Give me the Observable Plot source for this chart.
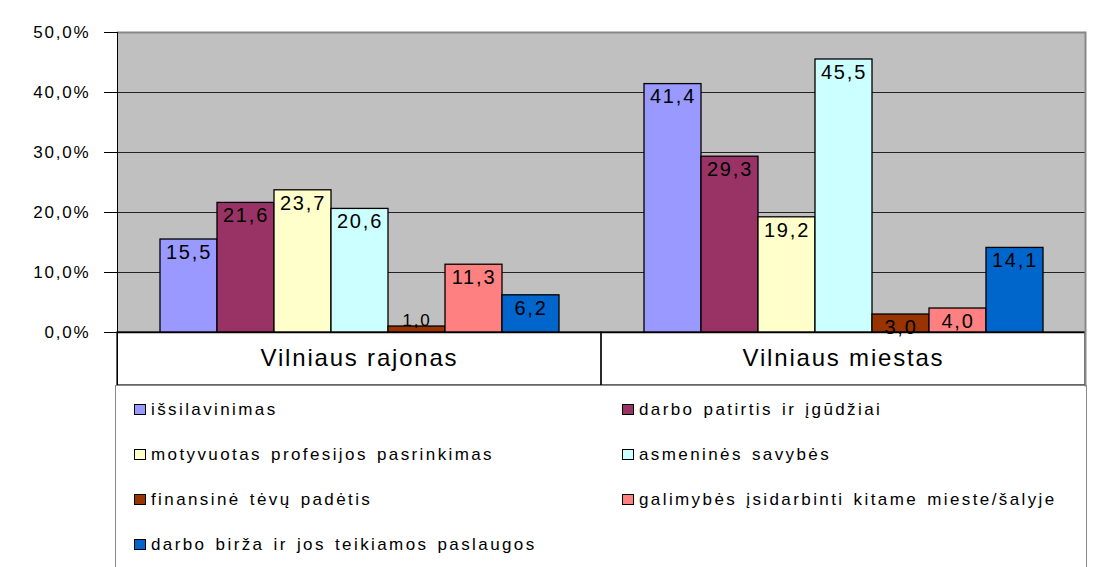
<!DOCTYPE html>
<html><head><meta charset="utf-8">
<script src="https://cdn.jsdelivr.net/npm/d3@7"></script>
<script src="https://cdn.jsdelivr.net/npm/@observablehq/plot@0.6"></script>
<style>
body{margin:0;background:#fff;font-family:"Liberation Sans",Arial,sans-serif;}
#chart{position:absolute;left:0;top:0;}
#chart svg{display:block;}
#legend{position:absolute;left:115px;top:385px;width:972px;height:220px;border:1px solid #888;
  display:grid;grid-template-columns:488px 1fr;grid-auto-rows:45px;padding:1px 0 0 18px;box-sizing:border-box;}
.item{display:flex;align-items:center;font-size:17px;letter-spacing:2.4px;word-spacing:2px;color:#000;white-space:nowrap;}
.sw{width:10px;height:9px;border:1px solid #000;margin-right:5px;flex:none;}
</style></head><body>
<div id="chart"></div>
<div id="legend"></div>
<script>
const groups = ["Vilniaus rajonas", "Vilniaus miestas"];
const series = [
  "išsilavinimas",
  "darbo patirtis ir įgūdžiai",
  "motyvuotas profesijos pasrinkimas",
  "asmeninės savybės",
  "finansinė tėvų padėtis",
  "galimybės įsidarbinti kitame mieste/šalyje",
  "darbo birža ir jos teikiamos paslaugos"
];
const colors = ["#9999FF", "#993366", "#FFFFCC", "#CCFFFF", "#993300", "#FF8080", "#0066CC"];
const rajonas = [15.5, 21.6, 23.7, 20.6, 1.0, 11.3, 6.2];
const miestas = [41.4, 29.3, 19.2, 45.5, 3.0, 4.0, 14.1];
const yTicks = [0, 10, 20, 30, 40, 50];
const yMin = -8.83;

const data = [];
series.forEach((s, i) => data.push({group: groups[0], series: s, value: rajonas[i]}));
series.forEach((s, i) => data.push({group: groups[1], series: s, value: miestas[i]}));

const fmt = v => v.toFixed(1).replace(".", ",");

const plot = Plot.plot({
  width: 1104, height: 386,
  marginLeft: 117, marginRight: 19, marginTop: 32, marginBottom: 1,
  style: {fontFamily: "'Liberation Sans', Arial, sans-serif", fontSize: "17px", color: "#000", background: "#fff", letterSpacing: "1.8px", overflow: "visible"},
  fx: {domain: groups, padding: 0, axis: null},
  x: {domain: series, paddingInner: 0, paddingOuter: 0.72, axis: null},
  y: {domain: [yMin, yTicks[yTicks.length - 1]], axis: null},
  color: {domain: series, range: colors},
  marks: [
    Plot.rect([{lo: 0, hi: 50}], {y1: "lo", y2: "hi", fill: "#c0c0c0"}),
    Plot.gridY([10, 20, 30, 40], {stroke: "#222", strokeOpacity: 1, strokeWidth: 1}),
    Plot.ruleY([50], {stroke: "#888", strokeWidth: 2}),
    Plot.rect([{lo: yMin, hi: 0}], {y1: "lo", y2: "hi", fill: "none", stroke: "#000", strokeWidth: 1.2}),
    Plot.barY(data, {fx: "group", x: "series", y: "value", fill: "series", stroke: "#000", strokeWidth: 1.3}),
    Plot.ruleY([0], {stroke: "#000", strokeWidth: 1.5}),
    Plot.text(data.filter(d => d.value >= 2), {fx: "group", x: "series", y: "value", text: d => fmt(d.value), lineAnchor: "top", dy: 5, fontSize: 20, fill: "#000"}),
    Plot.text(data.filter(d => d.value < 2), {fx: "group", x: "series", y: "value", text: d => fmt(d.value), lineAnchor: "bottom", dy: -1, fontSize: 17, fill: "#000"}),
    Plot.text(groups, {fx: d => d, text: d => d, frameAnchor: "bottom", dy: -20, fontSize: 24, fill: "#000"}),
    Plot.axisY(yTicks, {anchor: "left", tickSize: 13, tickPadding: 14, tickFormat: d => fmt(d) + "%", fontSize: 17, label: null}),
    Plot.frame({facet: "super", anchor: "left", stroke: "#000"}),
    Plot.frame({facet: "super", anchor: "right", stroke: "#888", strokeWidth: 2})
  ]
});
document.getElementById("chart").appendChild(plot);

const legend = document.getElementById("legend");
series.forEach((s, i) => {
  const item = document.createElement("div");
  item.className = "item";
  const sw = document.createElement("span");
  sw.className = "sw";
  sw.style.background = colors[i];
  const t = document.createElement("span");
  t.textContent = s;
  item.appendChild(sw);
  item.appendChild(t);
  legend.appendChild(item);
});
</script>
</body></html>
